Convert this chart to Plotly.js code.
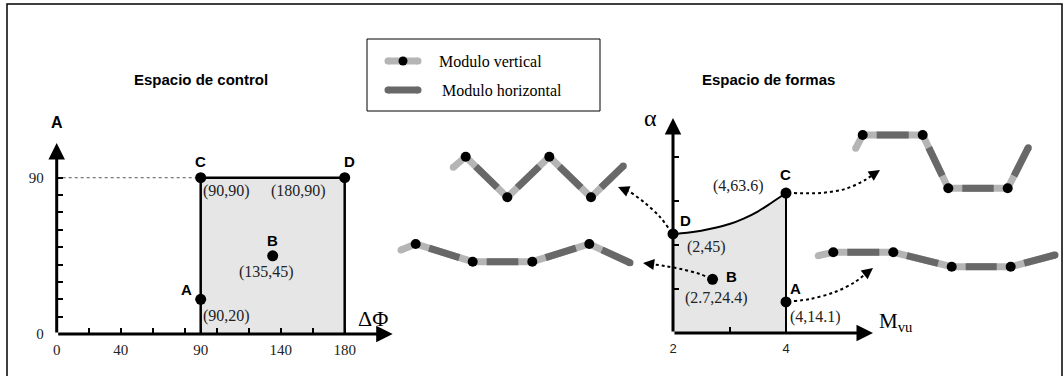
<!DOCTYPE html>
<html><head><meta charset="utf-8">
<script src="https://cdn.plot.ly/plotly-3.0.1.min.js"></script>
<style>html,body{margin:0;padding:0;background:#fff}#chart{width:1063px;height:376px}</style>
</head><body><div id="chart"></div>
<script>
const W = 1063, H = 376;

// ---------- data ----------
const pointNames = ['A', 'B', 'C', 'D'];
// control space (ΔΦ, A)
const ctrlDeltaPhi = [90, 135, 90, 180];
const ctrlA = [20, 45, 90, 90];
const ctrlRegionX = [90, 90, 180, 180];
const ctrlRegionY = [0, 90, 90, 0];
// shape space (Mvu, alpha)
const formMvu = [4, 2.7, 4, 2];
const formAlpha = [14.1, 24.4, 63.6, 45];
const boundaryMvu = [2, 2.25, 2.5, 2.75, 3, 3.25, 3.5, 3.75, 4];
const boundaryAlpha = [45, 45.6, 46.5, 47.8, 49.5, 52, 55.2, 59.3, 63.6];
// ticks
const ctrlXTickVals = [0, 20, 40, 60, 80, 90, 100, 120, 140, 160, 180];
const ctrlXTickText = ['0', '', '40', '', '', '90', '', '', '140', '', '180'];
const ctrlYTickVals = [0, 10, 20, 30, 40, 50, 60, 70, 80, 90];
const ctrlYTickText = ['0', '', '', '', '', '', '', '', '', '90'];
const formXTickVals = [2, 3, 4];
const formXTickText = ['2', '', '4'];
const formYTickVals = [20, 40, 60, 80];
// robot shapes (canvas pixels): free end, joints..., free end
const shapeDX = [453.3, 465.7, 507.3, 549.3, 591, 623.3];
const shapeDY = [167.3, 156.7, 197.3, 156.7, 197.3, 166];
const shapeBX = [401, 415.7, 472.7, 532.3, 589.3, 630];
const shapeBY = [250, 244, 261.7, 261.7, 244, 262.7];
const shapeCX = [855.7, 862.7, 922.7, 948.3, 1007.7, 1028.3];
const shapeCY = [148.3, 135, 135, 188.3, 188.3, 147.7];
const shapeAX = [818.3, 833.3, 893.3, 951.7, 1010.7, 1055];
const shapeAY = [255.7, 252.3, 252.3, 266.7, 266.7, 255];
// dotted connector waypoints (canvas pixels), after the start point
const connDX = [660, 645, 630, 618], connDY = [217, 203, 192, 187];
const connBX = [700, 683, 665, 643], connBY = [274, 269.5, 266, 263];
const connCX = [820, 845, 865, 880], connCY = [193, 189, 180, 170];
const connAX = [810, 835, 855, 873], connAY = [299, 292, 282, 268];

// ---------- geometry ----------
const L = {xr: [0, 210], px: [56.7, 392.7], yr: [0, 110], py: [334, 143]};
const R = {xr: [2, 5.54], px: [673, 873], yr: [0, 97.7], py: [333, 118]};
function lin(v, r, p) { return p[0] + (v - r[0]) / (r[1] - r[0]) * (p[1] - p[0]); }
function toPx(g, x, y) { return [lin(x, g.xr, g.px), lin(y, g.yr, g.py)]; }

const LIGHT = '#b5b5b5', DARK = '#686868', FILL = '#e6e6e6';
const SERIF = 'Liberation Serif, Times New Roman, serif';
const SANS = 'Liberation Sans, Arial, sans-serif';

const traces = [];
// control space
traces.push({x: ctrlRegionX, y: ctrlRegionY, mode: 'lines', fill: 'toself', fillcolor: FILL,
  line: {width: 0}, xaxis: 'x', yaxis: 'y', hoverinfo: 'skip'});
traces.push({x: [0, ctrlDeltaPhi[2]], y: [ctrlA[2], ctrlA[2]], mode: 'lines',
  line: {color: '#555', width: 1, dash: 'dot'}, xaxis: 'x', yaxis: 'y'});
traces.push({x: ctrlRegionX, y: ctrlRegionY, mode: 'lines', line: {color: 'black', width: 2.5},
  xaxis: 'x', yaxis: 'y'});
traces.push({x: ctrlDeltaPhi, y: ctrlA, mode: 'markers', marker: {color: 'black', size: 11},
  xaxis: 'x', yaxis: 'y', cliponaxis: false});

// shape space
const fillX = [2, 4].concat(boundaryMvu.slice().reverse());
const fillY = [0, 0].concat(boundaryAlpha.slice().reverse());
traces.push({x: fillX, y: fillY, mode: 'lines', fill: 'toself', fillcolor: FILL, line: {width: 0},
  xaxis: 'x2', yaxis: 'y2'});
traces.push({x: boundaryMvu, y: boundaryAlpha, mode: 'lines', line: {color: 'black', width: 2, shape: 'spline'},
  xaxis: 'x2', yaxis: 'y2'});
traces.push({x: [4, 4], y: [0, boundaryAlpha[boundaryAlpha.length - 1]], mode: 'lines',
  line: {color: 'black', width: 2}, xaxis: 'x2', yaxis: 'y2'});
traces.push({x: formMvu, y: formAlpha, mode: 'markers', marker: {color: 'black', size: 11},
  xaxis: 'x2', yaxis: 'y2', cliponaxis: false});

// robot shapes
function snake(xs, ys) {
  const n = xs.length;
  traces.push({x: xs, y: ys, mode: 'lines', line: {color: LIGHT, width: 7}, xaxis: 'x3', yaxis: 'y3'});
  const dx = [], dy = [];
  for (let i = 1; i < n - 1; i++) {
    const ux = xs[i + 1] - xs[i], uy = ys[i + 1] - ys[i];
    const len = Math.hypot(ux, uy), ex = ux / len, ey = uy / len;
    const m = 14;
    dx.push(xs[i] + ex * m); dy.push(ys[i] + ey * m);
    if (i + 1 === n - 1) { dx.push(xs[i + 1]); dy.push(ys[i + 1]); }
    else { dx.push(xs[i + 1] - ex * m); dy.push(ys[i + 1] - ey * m); }
    dx.push(null); dy.push(null);
  }
  traces.push({x: dx, y: dy, mode: 'lines', line: {color: DARK, width: 7}, xaxis: 'x3', yaxis: 'y3'});
  traces.push({x: [xs[0]], y: [ys[0]], mode: 'markers', marker: {color: LIGHT, size: 7}, xaxis: 'x3', yaxis: 'y3'});
  traces.push({x: [xs[n - 1]], y: [ys[n - 1]], mode: 'markers', marker: {color: DARK, size: 7}, xaxis: 'x3', yaxis: 'y3'});
  traces.push({x: xs.slice(1, n - 1), y: ys.slice(1, n - 1), mode: 'markers', marker: {color: 'black', size: 10},
    xaxis: 'x3', yaxis: 'y3'});
}
snake(shapeDX, shapeDY);
snake(shapeBX, shapeBY);
snake(shapeCX, shapeCY);
snake(shapeAX, shapeAY);

// legend samples
traces.push({x: [388, 418], y: [61, 61], mode: 'lines+markers', line: {color: LIGHT, width: 7},
  marker: {color: LIGHT, size: 7}, xaxis: 'x3', yaxis: 'y3'});
traces.push({x: [403], y: [61], mode: 'markers', marker: {color: 'black', size: 9}, xaxis: 'x3', yaxis: 'y3'});
traces.push({x: [388, 418], y: [90, 90], mode: 'lines+markers', line: {color: DARK, width: 7},
  marker: {color: DARK, size: 7}, xaxis: 'x3', yaxis: 'y3'});

const annotations = [];
// connectors
function connector(idx, cx, cy) {
  const s = toPx(R, formMvu[idx], formAlpha[idx]);
  const ux = cx[0] - s[0], uy = cy[0] - s[1], l = Math.hypot(ux, uy);
  const sx = s[0] + ux / l * 8, sy = s[1] + uy / l * 8;
  const n = cx.length;
  const hx = cx[n - 1], hy = cy[n - 1];
  const vx = hx - cx[n - 2], vy = hy - cy[n - 2], vl = Math.hypot(vx, vy);
  const tx = hx - vx / vl * 11, ty = hy - vy / vl * 11;
  traces.push({x: [sx].concat(cx.slice(0, n - 1), [tx]), y: [sy].concat(cy.slice(0, n - 1), [ty]),
    mode: 'lines', line: {color: 'black', width: 2, dash: 'dot', shape: 'spline'}, xaxis: 'x3', yaxis: 'y3'});
  annotations.push({xref: 'x3', yref: 'y3', axref: 'x3', ayref: 'y3', x: hx, y: hy, ax: tx, ay: ty,
    text: '', showarrow: true, arrowhead: 2, arrowsize: 1.4, arrowwidth: 1.6, arrowcolor: 'black'});
}
connector(3, connDX, connDY);
connector(1, connBX, connBY);
connector(2, connCX, connCY);
connector(0, connAX, connAY);

// axis arrows
function axisArrow(xr, yr, x, y, ax, ay, w) {
  annotations.push({xref: xr, yref: yr, axref: xr, ayref: yr, x: x, y: y, ax: ax, ay: ay, text: '',
    showarrow: true, arrowhead: 2, arrowsize: 1.1, arrowwidth: w, arrowcolor: 'black', standoff: 0});
}
axisArrow('x', 'y', L.xr[1], 0, 0, 0, 3);
axisArrow('x', 'y', 0, L.yr[1], 0, 0, 3);
axisArrow('x2', 'y2', R.xr[1], 0, 2, 0, 3);
axisArrow('x2', 'y2', 2, R.yr[1], 2, 0, 3);

// point labels
function lab(xr, yr, x, y, text, dx, dy, font) {
  annotations.push({xref: xr, yref: yr, x: x, y: y, text: text, showarrow: false, xshift: dx, yshift: dy,
    font: font, xanchor: 'center', yanchor: 'middle'});
}
const bold = {family: SANS, size: 15, color: 'black'};
const coord = {family: SERIF, size: 16, color: '#222'};
const ctrlNameShift = [[-14, 10], [0, 15], [0, 16], [5, 16]];
const ctrlCoordShift = [[26, -17], [-6, -16], [26, -13], [-46, -13]];
const formNameShift = [[10, 13], [19, 3], [0, 19], [12, 13]];
const formCoordShift = [[30, -15], [4, -19], [-47, 7], [33, -13]];
for (let i = 0; i < 4; i++) {
  lab('x', 'y', ctrlDeltaPhi[i], ctrlA[i], '<b>' + pointNames[i] + '</b>', ctrlNameShift[i][0], ctrlNameShift[i][1], bold);
  lab('x', 'y', ctrlDeltaPhi[i], ctrlA[i], '(' + ctrlDeltaPhi[i] + ',' + ctrlA[i] + ')', ctrlCoordShift[i][0], ctrlCoordShift[i][1], coord);
  lab('x2', 'y2', formMvu[i], formAlpha[i], '<b>' + pointNames[i] + '</b>', formNameShift[i][0], formNameShift[i][1], bold);
  lab('x2', 'y2', formMvu[i], formAlpha[i], '(' + formMvu[i] + ',' + formAlpha[i] + ')', formCoordShift[i][0], formCoordShift[i][1], coord);
}
// titles and axis names (canvas)
function ctext(x, y, text, font, anchor) {
  annotations.push({xref: 'x3', yref: 'y3', x: x, y: y, text: text, showarrow: false, font: font,
    xanchor: anchor || 'center', yanchor: 'middle'});
}
ctext(201, 79, '<b>Espacio de control</b>', {family: SANS, size: 15, color: 'black'});
ctext(768, 79, '<b>Espacio de formas</b>', {family: SANS, size: 15, color: 'black'});
ctext(57, 122, '<b>A</b>', {family: SANS, size: 16, color: 'black'});
ctext(373, 318, 'ΔΦ', {family: SERIF, size: 22, color: 'black'});
ctext(650, 118, 'α', {family: SERIF, size: 24, color: 'black'});
ctext(877, 322, 'M<sub>vu</sub>', {family: SERIF, size: 21, color: 'black'}, 'left');
ctext(437, 61, 'Modulo vertical', {family: SERIF, size: 16, color: 'black'}, 'left');
ctext(440, 90, 'Modulo horizontal', {family: SERIF, size: 16, color: 'black'}, 'left');

function xdom(g) { return [g.px[0] / W, g.px[1] / W]; }
function ydom(g) { return [1 - g.py[0] / H, 1 - g.py[1] / H]; }
const tickBase = {showgrid: false, zeroline: false, showline: false, ticks: 'inside', ticklen: 6,
  tickwidth: 2, tickcolor: 'black', tickmode: 'array', fixedrange: true};

const layout = {
  width: W, height: H, margin: {l: 0, r: 0, t: 0, b: 0},
  paper_bgcolor: 'white', plot_bgcolor: 'rgba(0,0,0,0)', showlegend: false,
  xaxis: Object.assign({}, tickBase, {domain: xdom(L), range: L.xr, anchor: 'y',
    tickvals: ctrlXTickVals, ticktext: ctrlXTickText, tickfont: {family: SERIF, size: 15, color: '#222'},
    ticklabelstandoff: 5}),
  yaxis: Object.assign({}, tickBase, {domain: ydom(L), range: L.yr, anchor: 'x',
    tickvals: ctrlYTickVals, ticktext: ctrlYTickText, tickfont: {family: SERIF, size: 15, color: '#222'},
    ticklabelstandoff: 12}),
  xaxis2: Object.assign({}, tickBase, {domain: xdom(R), range: R.xr, anchor: 'y2',
    tickvals: formXTickVals, ticktext: formXTickText, tickfont: {family: SANS, size: 13, color: '#222'},
    ticklabelstandoff: 6}),
  yaxis2: Object.assign({}, tickBase, {domain: ydom(R), range: R.yr, anchor: 'x2',
    tickvals: formYTickVals, showticklabels: false}),
  xaxis3: {domain: [0, 1], range: [0, W], visible: false, anchor: 'y3', fixedrange: true},
  yaxis3: {domain: [0, 1], range: [H, 0], visible: false, anchor: 'x3', fixedrange: true},
  shapes: [
    {type: 'rect', xref: 'paper', yref: 'paper', x0: 7 / W, x1: 1062 / W, y0: -0.05, y1: 1 - 4 / H,
      line: {color: 'black', width: 1.5}, fillcolor: 'rgba(0,0,0,0)'},
    {type: 'rect', xref: 'paper', yref: 'paper', x0: 367 / W, x1: 600 / W, y0: 1 - 111 / H, y1: 1 - 39 / H,
      line: {color: 'black', width: 1}, fillcolor: 'rgba(0,0,0,0)'}
  ],
  annotations: annotations
};
traces.forEach(t => { if (!t.hoverinfo) t.hoverinfo = 'skip'; });
Plotly.newPlot('chart', traces, layout, {staticPlot: true, displayModeBar: false});
</script></body></html>
